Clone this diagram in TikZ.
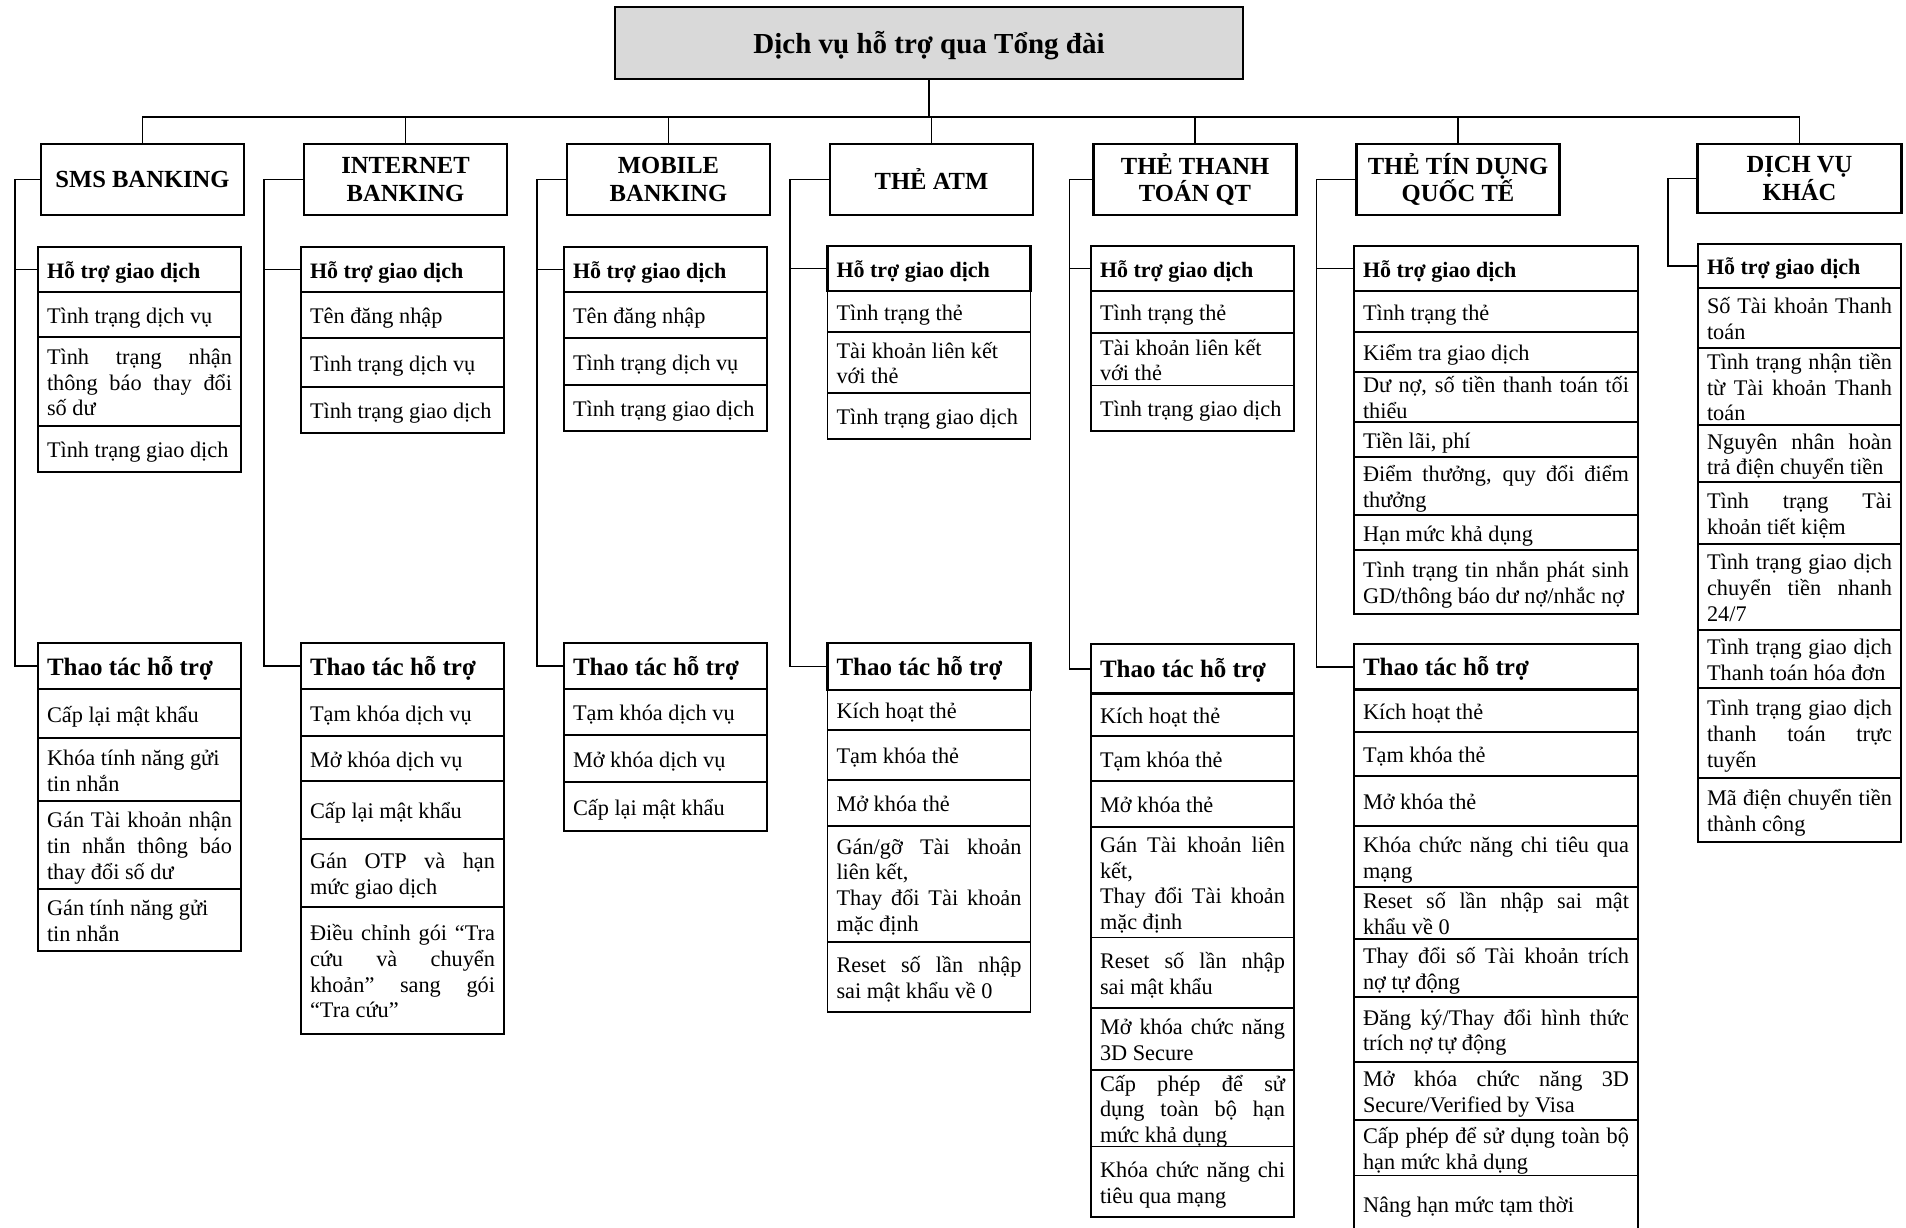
\documentclass[tikz,border=0pt]{standalone}
\usepackage{fontspec}
\setmainfont{Liberation Serif}
\definecolor{titlegray}{HTML}{D9D9D9}
\newcommand\itemfont{\fontsize{22.3}{25.7}\selectfont}
\newcommand\subAfont{\bfseries\fontsize{22}{25.7}\selectfont}
\newcommand\subBfont{\bfseries\fontsize{25}{28}\selectfont}
\newcommand\jline[1]{\hbox to\linewidth{\strut#1}}
\newcommand\lline[1]{\hbox to\linewidth{\strut#1\hfil}}
\newcommand\cel[7]{%
  \node[#6, anchor=north west] (#1) at (#2,#3)
    {\parbox[c][\dimexpr #5pt-#3pt\relax][c]{\dimexpr #4pt-#2pt-18pt\relax}{\vskip7pt #7}};}
\tikzset{
  every node/.style={outer sep=0pt},
  itemst/.style={draw, line width=1.6pt, inner xsep=9pt, inner ysep=0pt, font=\itemfont},
  subA/.style={draw, line width=2.8pt, inner xsep=9pt, inner ysep=0pt, font=\subAfont},
  subB/.style={draw, line width=2.8pt, inner xsep=9pt, inner ysep=0pt, font=\subBfont},
  hdbox/.style={draw, line width=2.8pt, inner sep=0pt, align=center, anchor=north west,
    minimum width=203pt, minimum height=71pt, font=\bfseries\fontsize{24.6}{27.7}\selectfont},
  conn/.style={line width=1.6pt},
}
\begin{document}
\begin{tikzpicture}[x=1pt,y=-1pt]
\useasboundingbox (0,0) rectangle (1906,1227);
\fill[white] (0,0) rectangle (1906,1227);
\coordinate (bus) at (0,117);
\coordinate (sSMS) at (15,0);
\coordinate (sINT) at (264,0);
\coordinate (sMOB) at (537,0);
\coordinate (sATM) at (790,0);
\coordinate (sTT) at (1069.6,0);
\coordinate (sTD) at (1316.4,0);
\coordinate (sDV) at (1668,0);

% ---------------- SMS ----------------
\cel{sms1}{38}{292}{241}{337}{itemst}{\lline{Tình trạng dịch vụ}}
\cel{sms2}{38}{337}{241}{426}{itemst}{\jline{Tình trạng nhận}\jline{thông báo thay đổi}\lline{số dư}}
\cel{sms3}{38}{426}{241}{472}{itemst}{\lline{Tình trạng giao dịch}}
\cel{sms4}{38}{689}{241}{738}{itemst}{\lline{Cấp lại mật khẩu}}
\cel{sms5}{38}{738}{241}{801}{itemst}{\lline{Khóa tính năng gửi}\lline{tin nhắn}}
\cel{sms6}{38}{801}{241}{889}{itemst}{\jline{Gán Tài khoản nhận}\jline{tin nhắn thông báo}\lline{thay đổi số dư}}
\cel{sms7}{38}{889}{241}{951}{itemst}{\lline{Gán tính năng gửi}\lline{tin nhắn}}
\cel{aSMS}{38}{247}{241}{292}{subA}{\lline{Hỗ trợ giao dịch}}
\cel{tSMS}{38}{643}{241}{689}{subB}{\lline{Thao tác hỗ trợ}}

% ---------------- INTERNET ----------------
\cel{int1}{301}{292}{504}{338}{itemst}{\lline{Tên đăng nhập}}
\cel{int2}{301}{338}{504}{387}{itemst}{\lline{Tình trạng dịch vụ}}
\cel{int3}{301}{387}{504}{433}{itemst}{\lline{Tình trạng giao dịch}}
\cel{int4}{301}{689}{504}{736}{itemst}{\lline{Tạm khóa dịch vụ}}
\cel{int5}{301}{736}{504}{781}{itemst}{\lline{Mở khóa dịch vụ}}
\cel{int6}{301}{781}{504}{839}{itemst}{\lline{Cấp lại mật khẩu}}
\cel{int7}{301}{839}{504}{907}{itemst}{\jline{Gán OTP và hạn}\lline{mức giao dịch}}
\cel{int8}{301}{907}{504}{1034}{itemst}{\jline{Điều chỉnh gói “Tra}\jline{cứu và chuyển}\jline{khoản” sang gói}\lline{“Tra cứu”}}
\cel{aINT}{301}{247}{504}{292}{subA}{\lline{Hỗ trợ giao dịch}}
\cel{tINT}{301}{643}{504}{689}{subB}{\lline{Thao tác hỗ trợ}}

% ---------------- MOBILE ----------------
\cel{mob1}{564}{292}{767}{338}{itemst}{\lline{Tên đăng nhập}}
\cel{mob2}{564}{338}{767}{385}{itemst}{\lline{Tình trạng dịch vụ}}
\cel{mob3}{564}{385}{767}{431}{itemst}{\lline{Tình trạng giao dịch}}
\cel{mob4}{564}{689}{767}{735}{itemst}{\lline{Tạm khóa dịch vụ}}
\cel{mob5}{564}{735}{767}{782}{itemst}{\lline{Mở khóa dịch vụ}}
\cel{mob6}{564}{782}{767}{831}{itemst}{\lline{Cấp lại mật khẩu}}
\cel{aMOB}{564}{247}{767}{292}{subA}{\lline{Hỗ trợ giao dịch}}
\cel{tMOB}{564}{643}{767}{689}{subB}{\lline{Thao tác hỗ trợ}}

% ---------------- ATM ----------------
\cel{atm1}{827.5}{291}{1030.5}{332}{itemst}{\lline{Tình trạng thẻ}}
\cel{atm2}{827.5}{332}{1030.5}{393}{itemst}{\lline{Tài khoản liên kết}\lline{với thẻ}}
\cel{atm3}{827.5}{393}{1030.5}{439}{itemst}{\lline{Tình trạng giao dịch}}
\cel{atm4}{827.5}{690}{1030.5}{730}{itemst}{\lline{Kích hoạt thẻ}}
\cel{atm5}{827.5}{730}{1030.5}{780}{itemst}{\lline{Tạm khóa thẻ}}
\cel{atm6}{827.5}{780}{1030.5}{826}{itemst}{\lline{Mở khóa thẻ}}
\cel{atm7}{827.5}{826}{1030.5}{942}{itemst}{\jline{Gán/gỡ Tài khoản}\lline{liên kết,}\jline{Thay đổi Tài khoản}\lline{mặc định}}
\cel{atm8}{827.5}{942}{1030.5}{1012}{itemst}{\jline{Reset số lần nhập}\lline{sai mật khẩu về 0}}
\cel{aATM}{827.5}{246}{1030.5}{291}{subA}{\lline{Hỗ trợ giao dịch}}
\cel{tATM}{827.5}{643}{1030.5}{690}{subB}{\lline{Thao tác hỗ trợ}}

% ---------------- THẺ THANH TOÁN QT ----------------
\cel{tt1}{1091}{291}{1294}{333}{itemst}{\lline{Tình trạng thẻ}}
\cel{tt2}{1091}{333}{1294}{385.5}{itemst}{\lline{Tài khoản liên kết}\lline{với thẻ}}
\cel{tt3}{1091}{385.5}{1294}{431}{itemst}{\lline{Tình trạng giao dịch}}
\cel{tt4}{1091}{693.6}{1294}{736}{itemst}{\lline{Kích hoạt thẻ}}
\cel{tt5}{1091}{736}{1294}{780.7}{itemst}{\lline{Tạm khóa thẻ}}
\cel{tt6}{1091}{780.7}{1294}{827}{itemst}{\lline{Mở khóa thẻ}}
\cel{tt7}{1091}{827}{1294}{937.5}{itemst}{\jline{Gán Tài khoản liên}\lline{kết,}\jline{Thay đổi Tài khoản}\lline{mặc định}}
\cel{tt8}{1091}{937.5}{1294}{1008}{itemst}{\jline{Reset số lần nhập}\lline{sai mật khẩu}}
\cel{tt9}{1091}{1008}{1294}{1070}{itemst}{\jline{Mở khóa chức năng}\lline{3D Secure}}
\cel{tt10}{1091}{1070}{1294}{1146.5}{itemst}{\jline{Cấp phép để sử}\jline{dụng toàn bộ hạn}\lline{mức khả dụng}}
\cel{tt11}{1091}{1146.5}{1294}{1217}{itemst}{\jline{Khóa chức năng chi}\lline{tiêu qua mạng}}
\cel{aTT}{1091}{246}{1294}{291}{subA}{\lline{Hỗ trợ giao dịch}}
\cel{tTT}{1091}{644}{1294}{693.6}{subB}{\lline{Thao tác hỗ trợ}}

% ---------------- THẺ TÍN DỤNG QUỐC TẾ ----------------
\cel{td1}{1354}{291}{1638}{332}{itemst}{\lline{Tình trạng thẻ}}
\cel{td2}{1354}{332}{1638}{372}{itemst}{\lline{Kiểm tra giao dịch}}
\cel{td3}{1354}{372}{1638}{422}{itemst}{\jline{Dư nợ, số tiền thanh toán tối}\lline{thiểu}}
\cel{td4}{1354}{422}{1638}{457}{itemst}{\lline{Tiền lãi, phí}}
\cel{td5}{1354}{457}{1638}{515}{itemst}{\jline{Điểm thưởng, quy đổi điểm}\lline{thưởng}}
\cel{td6}{1354}{515}{1638}{550}{itemst}{\lline{Hạn mức khả dụng}}
\cel{td7}{1354}{550}{1638}{614}{itemst}{\jline{Tình trạng tin nhắn phát sinh}\lline{GD/thông báo dư nợ/nhắc nợ}}
\cel{td8}{1354}{689.7}{1638}{732}{itemst}{\lline{Kích hoạt thẻ}}
\cel{td9}{1354}{732}{1638}{776}{itemst}{\lline{Tạm khóa thẻ}}
\cel{td10}{1354}{776}{1638}{826}{itemst}{\lline{Mở khóa thẻ}}
\cel{td11}{1354}{826}{1638}{887}{itemst}{\jline{Khóa chức năng chi tiêu qua}\lline{mạng}}
\cel{td12}{1354}{887}{1638}{939}{itemst}{\jline{Reset số lần nhập sai mật}\lline{khẩu về 0}}
\cel{td13}{1354}{939}{1638}{996.7}{itemst}{\jline{Thay đổi số Tài khoản trích}\lline{nợ tự động}}
\cel{td14}{1354}{996.7}{1638}{1062}{itemst}{\jline{Đăng ký/Thay đổi hình thức}\lline{trích nợ tự động}}
\cel{td15}{1354}{1062}{1638}{1120}{itemst}{\jline{Mở khóa chức năng 3D}\lline{Secure/Verified by Visa}}
\cel{td16}{1354}{1120}{1638}{1175.6}{itemst}{\jline{Cấp phép để sử dụng toàn bộ}\lline{hạn mức khả dụng}}
\cel{td17}{1354}{1175.6}{1638}{1232}{itemst}{\lline{Nâng hạn mức tạm thời}}
\cel{aTD}{1354}{246}{1638}{291}{subA}{\lline{Hỗ trợ giao dịch}}
\cel{tTD}{1354}{644}{1638}{689.7}{subB}{\lline{Thao tác hỗ trợ}}

% ---------------- DỊCH VỤ KHÁC ----------------
\cel{dv1}{1698}{288}{1901}{348}{itemst}{\jline{Số Tài khoản Thanh}\lline{toán}}
\cel{dv2}{1698}{348}{1901}{425}{itemst}{\jline{Tình trạng nhận tiền}\jline{từ Tài khoản Thanh}\lline{toán}}
\cel{dv3}{1698}{425}{1901}{482}{itemst}{\jline{Nguyên nhân hoàn}\lline{trả điện chuyển tiền}}
\cel{dv4}{1698}{482}{1901}{544}{itemst}{\jline{Tình trạng Tài}\lline{khoản tiết kiệm}}
\cel{dv5}{1698}{544}{1901}{630}{itemst}{\jline{Tình trạng giao dịch}\jline{chuyển tiền nhanh}\lline{24/7}}
\cel{dv6}{1698}{630}{1901}{688}{itemst}{\jline{Tình trạng giao dịch}\lline{Thanh toán hóa đơn}}
\cel{dv7}{1698}{688}{1901}{778}{itemst}{\jline{Tình trạng giao dịch}\jline{thanh toán trực}\lline{tuyến}}
\cel{dv8}{1698}{778}{1901}{842}{itemst}{\jline{Mã điện chuyển tiền}\lline{thành công}}
\cel{aDV}{1698}{244}{1901}{288}{subA}{\lline{Hỗ trợ giao dịch}}

% ---------------- headers ----------------
\node[draw, line width=2.8pt, fill=titlegray, inner sep=0pt, anchor=north west,
  minimum width=628pt, minimum height=72pt,
  font=\bfseries\fontsize{29}{34}\selectfont] (title) at (615,7)
  {\raisebox{-3pt}[\height][\depth]{Dịch vụ hỗ trợ qua Tổng đài}};
\node[hdbox] (hSMS) at (41,144) {SMS BANKING};
\node[hdbox] (hINT) at (304,144) {INTERNET\\BANKING};
\node[hdbox] (hMOB) at (567,144) {MOBILE\\BANKING};
\node[hdbox] (hATM) at (830,144) {THẺ ATM};
\node[hdbox] (hTT) at (1093.5,144) {THẺ THANH\\TOÁN QT};
\node[hdbox] (hTD) at (1356.5,144) {THẺ TÍN DỤNG\\QUỐC TẾ};
\node[hdbox, minimum width=204pt, minimum height=69pt] (hDV) at (1697.5,144) {DỊCH VỤ\\KHÁC};

% ---------------- connectors ----------------
\draw[conn] (title.south) -- (title.south |- bus);
\draw[conn] (hSMS.north) |- (bus -| hDV.north) -- (hDV.north);
\foreach \h in {hINT,hMOB,hATM,hTT,hTD} {
  \draw[conn] (\h.north) -- (\h.north |- bus);
}
\foreach \c in {SMS,INT,MOB,ATM,TT,TD} {
  \draw[conn] (h\c.west) -- (h\c.west -| s\c) |- (t\c.west);
  \draw[conn] (a\c.west) -- (a\c.west -| s\c);
}
\draw[conn] (hDV.west) -- (hDV.west -| sDV) |- (aDV.west);
\end{tikzpicture}
\end{document}
